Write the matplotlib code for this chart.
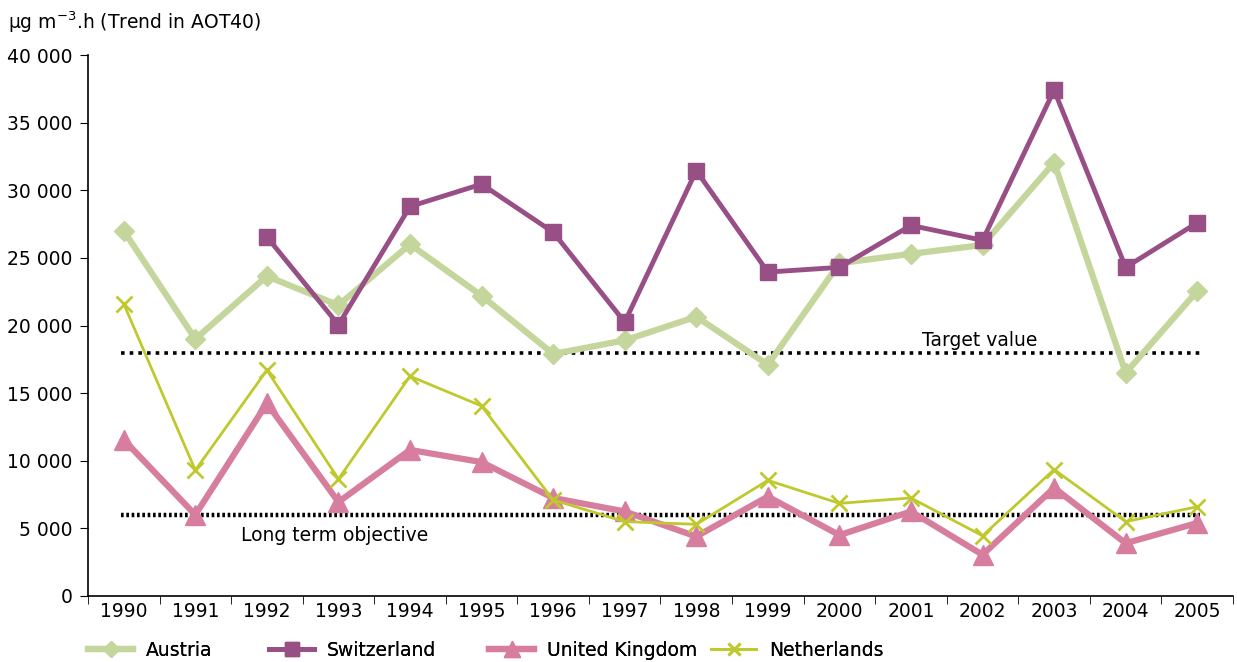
import numpy as np
import matplotlib
matplotlib.use('Agg')
import matplotlib.pyplot as plt
from matplotlib.ticker import FuncFormatter

# data
years = ['1990', '1991', '1992', '1993', '1994', '1995', '1996', '1997',
         '1998', '1999', '2000', '2001', '2002', '2003', '2004', '2005']
austria = [27000, 19000, 23650, 21500, 26000, 22200, 17900, 18900,
           20650, 17100, 24600, 25300, 25950, 32050, 16500, 22550]
switzerland = [np.nan, np.nan, 26550, 20050, 28800, 30450, 26900, 20250,
               31450, 23950, 24300, 27400, 26300, 37400, 24300, 27600]
uk = [11550, 6000, 14250, 6950, 10800, 9900, 7250, 6250,
      4400, 7350, 4500, 6250, 3050, 8000, 3900, 5400]
netherlands = [21600, 9300, 16700, 8650, 16250, 14050, 7100, 5500,
               5300, 8550, 6850, 7250, 4450, 9350, 5500, 6600]
target_value = 18000
long_term = 6000

x = np.arange(len(years))
fs = 13.5

fig = plt.figure(figsize=(12.37, 6.62), dpi=100)
ax = fig.add_axes([0.0711, 0.0997, 0.9257, 0.8172])

lines = []
lines += ax.plot(x, austria, color='#c4d69c', lw=4.5, marker='D', ms=10, label='Austria', zorder=3)
lines += ax.plot(x, switzerland, color='#984f86', lw=3.5, marker='s', ms=12, label='Switzerland', zorder=4)
lines += ax.plot(x, uk, color='#d77e9e', lw=4.5, marker='^', ms=14, label='United Kingdom', zorder=3)
lines += ax.plot(x, netherlands, color='#bfc92e', lw=2, marker='x', ms=11, mew=2, label='Netherlands', zorder=5)

# reference levels
ax.plot([-0.04, 15.04], [target_value, target_value], color='black', lw=2.6,
        dashes=(1, 1.4), zorder=2)
ax.plot([-0.04, 15.04], [long_term, long_term], color='black', lw=3.2,
        dashes=(0.6, 0.6), zorder=2)
ax.text(11.96, target_value + 200, 'Target value', fontsize=fs, va='bottom', ha='center')
ax.text(2.94, long_term - 800, 'Long term objective', fontsize=fs, va='top', ha='center')

ax.set_xlim(-0.5, 15.5)
ax.set_ylim(0, 40000)
ax.set_yticks(np.arange(0, 40001, 5000))
ax.yaxis.set_major_formatter(FuncFormatter(lambda v, p: f'{int(v):,}'.replace(',', ' ')))
ax.set_xticks(x)
ax.set_xticklabels(years)
ax.set_xticks(np.arange(-0.5, 16, 1), minor=True)
ax.tick_params(axis='x', which='major', length=0, labelsize=fs, pad=4)
ax.tick_params(axis='x', which='minor', length=6, direction='out')
ax.tick_params(axis='y', length=6, direction='out', labelsize=fs, pad=5)

for s in ['top', 'right']:
    ax.spines[s].set_visible(False)
ax.spines['left'].set_linewidth(1.2)
ax.spines['bottom'].set_linewidth(1.2)

fig.text(0.0065, 0.967, r'µg m$^{\mathregular{-3}}$.h (Trend in AOT40)', fontsize=fs, va='center')

# legend entries placed one by one, as in the original
leg_x = [88, 269, 489, 711]
for ln, px in zip(lines, leg_x):
    lg = fig.legend(handles=[ln], loc='center left', bbox_to_anchor=(px / 1237, 0.018),
                    frameon=False, fontsize=fs, handlelength=2.4, handletextpad=0.7,
                    borderpad=0, borderaxespad=0, markerscale=0.85)
    fig.add_artist(lg)

fig.savefig('out.png', dpi=100)
